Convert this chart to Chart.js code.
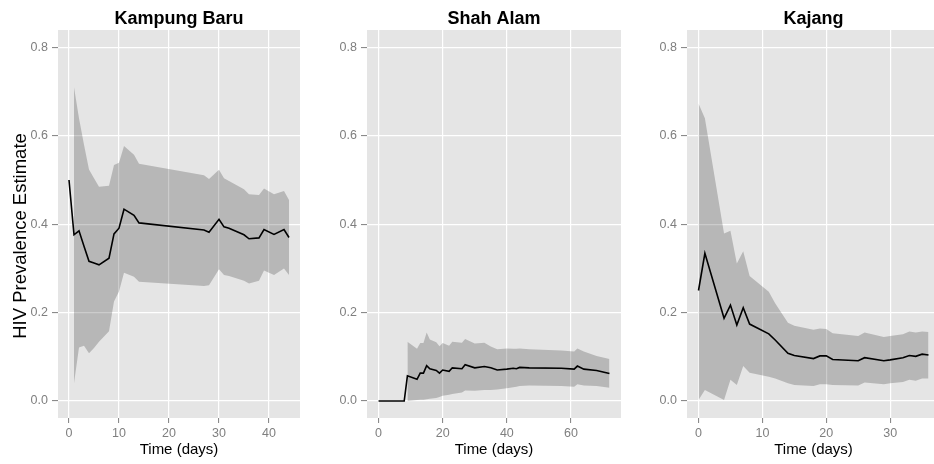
<!DOCTYPE html>
<html><head><meta charset="utf-8">
<script src="https://cdn.jsdelivr.net/npm/chart.js@4.4.1/dist/chart.umd.min.js"></script>
<style>
html,body{margin:0;padding:0;background:#fff;overflow:hidden;}
#wrap{position:relative;width:934px;height:464px;overflow:hidden;background:#fff;}
canvas{position:absolute;top:0;}
</style></head><body>
<div id="wrap">
<canvas id="c1" width="300" height="464" style="left:0px"></canvas>
<canvas id="c2" width="311" height="464" style="left:310px"></canvas>
<canvas id="c3" width="310" height="464" style="left:630px"></canvas>
</div>
<script>
// ---- data ----
const panelTitles = ["Kampung Baru", "Shah Alam", "Kajang"];
const yTitle = "HIV Prevalence Estimate";
const xTitle = "Time (days)";
const yTicks = [0, 0.2, 0.4, 0.6, 0.8];
const kbTicks = [0, 10, 20, 30, 40];
const saTicks = [0, 20, 40, 60];
const kjTicks = [0, 10, 20, 30];

const kbDays = [0,1,2,3,4,5,6,8,9,10,11,13,14,27,28,30,31,32,35,36,38,39,41,43,44];
const kbEst  = [0.500,0.376,0.385,0.350,0.316,0.312,0.308,0.323,0.378,0.391,0.434,0.420,0.403,0.387,0.382,0.411,0.394,0.391,0.376,0.367,0.369,0.388,0.377,0.388,0.370];
const kbHigh = [null,0.710,0.640,0.580,0.524,0.504,0.485,0.487,0.534,0.539,0.577,0.557,0.537,0.511,0.502,0.523,0.504,0.498,0.479,0.468,0.466,0.481,0.468,0.475,0.455];
const kbLow  = [null,0.040,0.121,0.125,0.108,0.120,0.134,0.158,0.225,0.248,0.290,0.281,0.270,0.260,0.262,0.298,0.285,0.283,0.272,0.266,0.272,0.295,0.285,0.300,0.285];

const saDays = [0,8,9,12,13,14,15,16,18,19,20,22,23,26,27,30,33,35,37,40,42,43,44,47,57,61,62,64,68,72];
const saEst  = [0,0,0.057,0.049,0.063,0.063,0.080,0.073,0.069,0.063,0.070,0.067,0.075,0.073,0.082,0.075,0.078,0.075,0.070,0.072,0.074,0.073,0.076,0.075,0.074,0.072,0.079,0.072,0.069,0.062];
const saHigh = [null,null,0.134,0.118,0.131,0.131,0.155,0.139,0.133,0.124,0.131,0.125,0.134,0.132,0.140,0.130,0.132,0.123,0.117,0.119,0.118,0.118,0.119,0.117,0.114,0.112,0.119,0.112,0.102,0.095];
const saLow  = [null,null,0.000,0.002,0.003,0.003,0.004,0.005,0.007,0.009,0.012,0.014,0.016,0.019,0.024,0.023,0.025,0.025,0.026,0.029,0.031,0.032,0.034,0.035,0.034,0.032,0.038,0.035,0.034,0.030];

const kjDays = [0,1,4,5,6,7,8,11,12,14,15,18,19,20,21,25,26,29,30,32,33,34,35,36];
const kjEst  = [0.250,0.334,0.187,0.217,0.172,0.211,0.174,0.152,0.138,0.108,0.103,0.096,0.102,0.102,0.094,0.091,0.098,0.091,0.093,0.098,0.103,0.101,0.106,0.104];
const kjHigh = [0.673,0.640,0.379,0.385,0.311,0.339,0.283,0.247,0.221,0.177,0.170,0.161,0.164,0.163,0.153,0.147,0.155,0.145,0.147,0.151,0.157,0.155,0.157,0.156];
const kjLow  = [0.002,0.025,0.002,0.048,0.036,0.079,0.064,0.055,0.051,0.040,0.036,0.034,0.038,0.038,0.036,0.035,0.042,0.038,0.040,0.043,0.048,0.046,0.051,0.051];

// ---- drawing ----
const FONT = "'Liberation Sans', Arial, Helvetica, sans-serif";
Chart.defaults.font.family = FONT;

const panelBg = {
  id: 'panelBg',
  beforeDraw(chart) {
    const a = chart.chartArea, ctx = chart.ctx;
    ctx.save();
    ctx.fillStyle = '#E5E5E5';
    ctx.fillRect(a.left, a.top, a.right - a.left, a.bottom - a.top);
    ctx.restore();
  }
};
const panelTitle = {
  id: 'panelTitle',
  afterDraw(chart, args, opts) {
    const a = chart.chartArea, ctx = chart.ctx;
    ctx.save();
    ctx.font = "bold 18px " + FONT;
    ctx.fillStyle = '#000';
    ctx.textAlign = 'center';
    ctx.textBaseline = 'alphabetic';
    ctx.fillText(opts.text, (a.left + a.right) / 2, 24);
    if (opts.yTitle) {
      ctx.translate(26, (a.top + a.bottom) / 2 + 12);
      ctx.rotate(-Math.PI / 2);
      ctx.font = "18.5px " + FONT;
      ctx.fillText(opts.yTitle, 0, 0);
    }
    ctx.restore();
  }
};

function pts(days, vals) {
  return days.map((d, i) => ({x: d, y: vals[i]})).filter(p => p.y !== null);
}

function makePanel(id, title, days, est, low, high, xMin, xMax, xTicks, yWidth, showYTitle) {
  new Chart(document.getElementById(id), {
    type: 'line',
    data: {
      datasets: [
        {data: pts(days, est), borderColor: '#000', borderWidth: 1.6, pointRadius: 0, fill: false, tension: 0},
        {data: pts(days, low), borderColor: 'rgba(0,0,0,0)', borderWidth: 0, pointRadius: 0, fill: false, tension: 0},
        {data: pts(days, high), borderColor: 'rgba(0,0,0,0)', borderWidth: 0, pointRadius: 0, fill: '-1',
         backgroundColor: 'rgba(0,0,0,0.2)', tension: 0}
      ]
    },
    plugins: [panelBg, panelTitle],
    options: {
      responsive: false,
      animation: false,
      events: [],
      layout: {padding: {top: 30, left: 0, right: 0, bottom: 0}},
      plugins: {
        legend: {display: false},
        tooltip: {enabled: false},
        panelTitle: {text: title, yTitle: showYTitle ? yTitle : null}
      },
      scales: {
        x: {
          type: 'linear', min: xMin, max: xMax,
          afterBuildTicks: s => { s.ticks = xTicks.map(v => ({value: v})); },
          afterFit: s => { s.height = 46; },
          ticks: {color: '#7F7F7F', font: {size: 12.5}, padding: 3, autoSkip: false, maxRotation: 0,
                  callback: v => String(v)},
          grid: {color: '#FFFFFF', lineWidth: 1.2, tickColor: '#7F7F7F', tickLength: 5, tickWidth: 1},
          border: {display: false},
          title: {display: true, text: xTitle, color: '#000', font: {size: 15},
                  padding: {top: 0, bottom: 5}}
        },
        y: {
          type: 'linear', min: -0.0385, max: 0.8394,
          afterBuildTicks: s => { s.ticks = yTicks.map(v => ({value: v})); },
          afterFit: s => { s.width = yWidth; },
          ticks: {color: '#7F7F7F', font: {size: 12.5}, padding: 4, autoSkip: false,
                  callback: v => v.toFixed(1)},
          grid: {color: '#FFFFFF', lineWidth: 1.2, tickColor: '#7F7F7F', tickLength: 6, tickWidth: 1},
          border: {display: false},
          title: {display: false}
        }
      }
    }
  });
}

makePanel('c1', panelTitles[0], kbDays, kbEst, kbLow, kbHigh, -2.2, 46.2, kbTicks, 58, true);
makePanel('c2', panelTitles[1], saDays, saEst, saLow, saHigh, -3.6, 75.6, saTicks, 57, false);
makePanel('c3', panelTitles[2], kjDays, kjEst, kjLow, kjHigh, -1.8, 37.8, kjTicks, 57, false);
</script>
</body></html>
